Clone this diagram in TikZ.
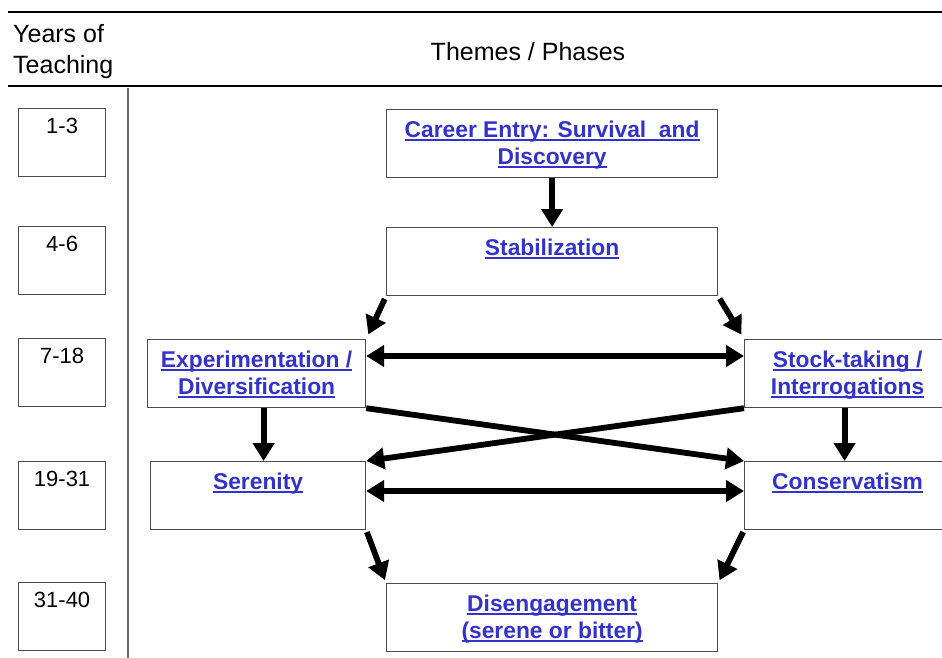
\documentclass[tikz,border=0pt]{standalone}
\usepackage{fontspec}
\setmainfont{Liberation Sans}
\usepackage{tikz}
\usetikzlibrary{arrows.meta}
\definecolor{linkblue}{RGB}{51,51,204}
\newsavebox{\lnkbox}
\newcommand{\lnk}[1]{\sbox{\lnkbox}{#1}\rlap{\rule[-3pt]{\wd\lnkbox}{1.6pt}}\usebox{\lnkbox}}

\begin{document}
\begin{tikzpicture}[x=1pt,y=-1pt,
  head/.style={inner sep=0pt,font=\fontsize{25}{31}\selectfont},
  yearbox/.style={draw=black!70,line width=1.2pt,minimum width=87pt,minimum height=68pt,anchor=north west,inner sep=0pt},
  yeartext/.style={anchor=north,inner sep=0pt,yshift=-10pt,font=\fontsize{22}{26}\selectfont},
  phase/.style={draw=black!70,line width=1.2pt,minimum height=68pt,anchor=north west,inner sep=0pt},
  phasetext/.style={anchor=north,inner sep=0pt,yshift=-12pt,align=center,text=linkblue,font=\fontsize{22.8}{27}\selectfont\bfseries},
  link/.style={line width=5.8pt,-{Triangle[length=18pt,width=21pt]}},
  twoway/.style={line width=5.8pt,{Triangle[length=18pt,width=21pt]}-{Triangle[length=18pt,width=21pt]}}]
\clip (0,0) rectangle (942,658);
% header rows
\draw [line width=1.2pt] (8,12) -- (942,12);
\draw [line width=1.2pt] (8,86) -- (942,86);
\draw [line width=1.5pt,black!60] (128,88) -- (128,658);
\node [head,anchor=north west,align=left] (years) at (13,24) {Years of\\Teaching};
\node [head] (themes) at (528,52) {Themes / Phases};
% years column
\foreach \name/\yr/\top in {y1/1-3/108,y2/4-6/226,y3/7-18/338,y4/19-31/461,y5/31-40/582} {
  \node [yearbox] (\name) at (18,\top) {};
  \node [yeartext] (\name-t) at (\name.north) {\yr};
}
% phases
\node [phase,minimum width=331pt] (career) at (386,109) {};
\node [phasetext] (career-t) at (career.north) {\lnk{Career Entry: Survival\ \ and}\\\lnk{Discovery}};
\node [phase,minimum width=331pt] (stab) at (386,227) {};
\node [phasetext] (stab-t) at (stab.north) {\lnk{Stabilization}};
\node [phase,minimum width=218pt] (exp) at (147,339) {};
\node [phasetext] (exp-t) at (exp.north) {\lnk{Experimentation /}\\\lnk{Diversification}};
\node [phase,minimum width=206pt] (stock) at (744,339) {};
\node [phasetext] (stock-t) at (stock.north) {\lnk{Stock-taking /}\\\lnk{Interrogations}};
\node [phase,minimum width=215pt] (ser) at (150,461) {};
\node [phasetext] (ser-t) at (ser.north) {\lnk{Serenity}};
\node [phase,minimum width=206pt] (cons) at (744,461) {};
\node [phasetext] (cons-t) at (cons.north) {\lnk{Conservatism}};
\node [phase,minimum width=331pt] (dis) at (386,583) {};
\node [phasetext] (dis-t) at (dis.north) {\lnk{Disengagement}\\\lnk{(serene or bitter)}};
% arrows
\draw [link] (career) -- (stab);
\draw [link,shorten <=3pt,shorten >=5pt] (stab.south west) -- (exp.north east);
\draw [link,shorten <=3pt,shorten >=5pt] (stab.south east) -- (stock.north west);
\draw [twoway] ([yshift=-17pt]exp.north east) -- ([yshift=-17pt]stock.north west);
\draw [link] ([xshift=7pt]exp.south) -- ([xshift=7pt]exp.south |- ser.north);
\draw [link] ([xshift=-3pt]stock.south) -- ([xshift=-3pt]cons.north);
\draw [link] (exp.south east) -- (cons.north west);
\draw [link] (stock.south west) -- (ser.north east);
\draw [twoway] ([yshift=-30pt]ser.north east) -- ([yshift=-30pt]cons.north west);
\draw [link,shorten <=2pt,shorten >=3pt] (ser.south east) -- (dis.north west);
\draw [link,shorten <=2pt,shorten >=3pt] (cons.south west) -- (dis.north east);
\end{tikzpicture}
\end{document}
